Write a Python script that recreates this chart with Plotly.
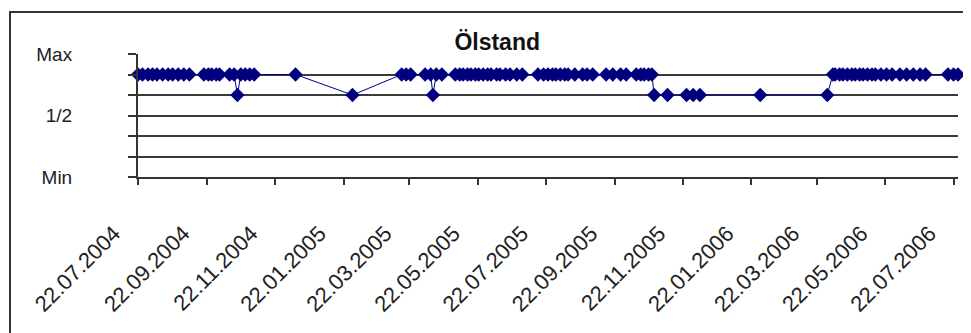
import plotly.graph_objects as go

# ---- data ----
dates = (
    ["2004-07-22", "2004-07-26", "2004-07-31", "2004-08-04", "2004-08-08", "2004-08-13",
     "2004-08-18", "2004-08-22", "2004-08-27", "2004-09-01", "2004-09-06", "2004-09-19",
     "2004-09-23", "2004-09-26", "2004-09-30", "2004-10-03", "2004-10-12", "2004-10-16"]
    + ["2004-10-19"]
    + ["2004-10-22", "2004-10-26", "2004-10-30", "2004-11-03", "2004-12-10"]
    + ["2005-01-30"]
    + ["2005-03-15", "2005-03-19", "2005-03-23", "2005-04-05", "2005-04-10"]
    + ["2005-04-12"]
    + ["2005-04-15", "2005-04-20", "2005-05-02", "2005-05-06", "2005-05-09", "2005-05-13",
       "2005-05-16", "2005-05-20", "2005-05-23", "2005-05-27", "2005-05-31", "2005-06-03",
       "2005-06-08", "2005-06-11", "2005-06-16", "2005-06-20", "2005-06-26", "2005-07-01",
       "2005-07-15", "2005-07-20", "2005-07-24", "2005-07-28", "2005-07-31", "2005-08-04",
       "2005-08-08", "2005-08-11", "2005-08-17", "2005-08-24", "2005-08-28", "2005-09-02",
       "2005-09-14", "2005-09-20", "2005-09-27", "2005-10-02", "2005-10-11", "2005-10-15",
       "2005-10-18", "2005-10-22", "2005-10-25"]
    + ["2005-10-27", "2005-11-08", "2005-11-25", "2005-12-01", "2005-12-07", "2006-01-30",
       "2006-03-31"]
    + ["2006-04-05", "2006-04-07", "2006-04-11", "2006-04-14", "2006-04-18", "2006-04-22",
       "2006-04-25", "2006-04-29", "2006-05-02", "2006-05-06", "2006-05-10", "2006-05-13",
       "2006-05-18", "2006-05-23", "2006-05-28", "2006-06-04", "2006-06-10", "2006-06-16",
       "2006-06-22", "2006-06-27", "2006-07-17", "2006-07-22", "2006-07-26"]
)
levels = (
    [5] * 18
    + [4]
    + [5] * 5
    + [4]
    + [5] * 5
    + [4]
    + [5] * 39
    + [4] * 7
    + [5] * 23
)

x_tick_dates = ["2004-07-22", "2004-09-22", "2004-11-22", "2005-01-22", "2005-03-22",
                "2005-05-22", "2005-07-22", "2005-09-22", "2005-11-22", "2006-01-22",
                "2006-03-22", "2006-05-22", "2006-07-22"]
x_tick_labels = ["22.07.2004", "22.09.2004", "22.11.2004", "22.01.2005", "22.03.2005",
                 "22.05.2005", "22.07.2005", "22.09.2005", "22.11.2005", "22.01.2006",
                 "22.03.2006", "22.05.2006", "22.07.2006"]
y_tick_vals = [0, 1, 2, 3, 4, 5, 6]
y_tick_text = ["Min", "", "", "1/2", "", "", "Max"]
title_text = "Ölstand"

FONT = "Liberation Sans, Arial, sans-serif"
NAVY = "#00007f"
DARK = "#333333"

# page has an 8px body margin, so figure is 963x325 placed at (8, 8)
W, H = 963, 325
L, R, T, B = 130, 13, 46, 156
PW, PH = W - L - R, H - T - B

fig = go.Figure(go.Scatter(
    x=dates, y=levels, mode="lines+markers",
    line=dict(color=NAVY, width=1),
    marker=dict(symbol="diamond", size=11, color=NAVY),
    cliponaxis=False, hoverinfo="skip",
))

fig.update_layout(
    width=W, height=H,
    margin=dict(l=L, r=R, t=T, b=B),
    paper_bgcolor="white", plot_bgcolor="white",
    showlegend=False,
    font=dict(family=FONT, color="#222222"),
    title=dict(text="<b>" + title_text + "</b>", xref="container", x=0.508, xanchor="center",
               yref="container", y=0.895, yanchor="middle",
               font=dict(family=FONT, size=23, color="#111111")),
    xaxis=dict(
        type="date", range=["2004-07-22", "2006-07-26"],
        tickmode="array", tickvals=x_tick_dates, ticktext=x_tick_labels,
        tickangle=-45, ticks="outside", ticklen=6, tickwidth=1.5, tickcolor=DARK,
        showline=True, linecolor=DARK, linewidth=2, showgrid=False, zeroline=False,
        tickfont=dict(family=FONT, size=22, color="#222222"),
        ticklabelstandoff=27, ticklabelshift=-24,
    ),
    yaxis=dict(
        range=[0, 6], tickmode="array", tickvals=y_tick_vals, ticktext=y_tick_text,
        ticks="outside", ticklen=8, tickwidth=1.5, tickcolor=DARK,
        showline=True, linecolor=DARK, linewidth=2,
        showgrid=True, gridcolor="#3a3a3a", gridwidth=1.6, zeroline=False,
        tickfont=dict(family=FONT, size=19, color="#222222"),
        ticklabelstandoff=52,
    ),
)

# outer chart border (top and left edges visible in the reference)
fig.add_annotation(
    xref="paper", yref="paper",
    x=(1 - L) / PW, y=(H - B - 3) / PH,
    xanchor="left", yanchor="top",
    text="&nbsp;", showarrow=False,
    width=1000, height=360,
    bordercolor=DARK, borderwidth=2, borderpad=0,
)

fig.write_html("out.html")
